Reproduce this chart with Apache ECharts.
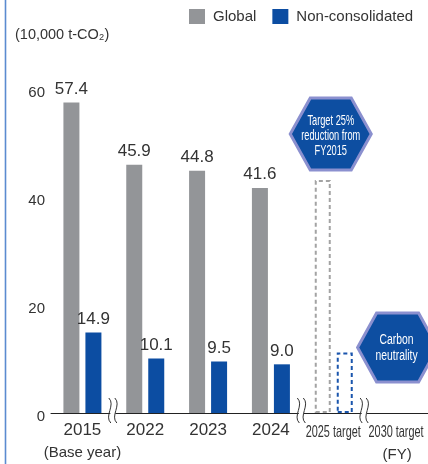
<!DOCTYPE html>
<html><head><meta charset="utf-8">
<script src="https://cdn.jsdelivr.net/npm/echarts@6/dist/echarts.min.js"></script>
<style>html,body{margin:0;padding:0;background:#fff}#c{width:428px;height:464px}</style>
</head><body><div id="c"></div>
<script>
const categories = ['2015', '2022', '2023', '2024', '2025 target', '2030 target'];
const categoryNotes = ['(Base year)', '', '', '', '', '(FY)'];
const targetCategories = ['2025 target', '2030 target'];
const globalValues = [57.4, 45.9, 44.8, 41.6, null, null];
const nonConsolidatedValues = [14.9, 10.1, 9.5, 9.0, null, null];
const globalTarget = [null, null, null, null, 43.1, null];
const nonConsolidatedTarget = [null, null, null, null, 11.2, null];
const yTicks = [0, 20, 40, 60];
const breakAfter = [0, 3, 4];
const unitText = '(10,000 t-CO\u2082)';
const targetNote = 'Target 25%\nreduction from\nFY2015';
const neutralNote = 'Carbon\nneutrality';

const FONT = '"Liberation Sans", Arial, sans-serif';
const GRAY = '#939598';
const BLUE = '#0c4da2';
const TXT = '#333';

function buildData(values, targets, dashColor) {
  return values.map((v, i) => {
    if (targets[i] != null) {
      return {
        value: targets[i],
        itemStyle: { color: 'rgba(0,0,0,0)', borderColor: dashColor, borderWidth: 2, borderType: [4, 3] },
        label: { show: false }
      };
    }
    return v == null ? '-' : v;
  });
}

const chart = echarts.init(document.getElementById('c'), null, { renderer: 'canvas' });
const labelCfg = {
  show: true, position: 'top', distance: 5, fontSize: 17, color: TXT, fontFamily: FONT,
  formatter: p => Number(p.value).toFixed(1)
};
chart.setOption({
  backgroundColor: '#fff',
  animation: false,
  textStyle: { fontFamily: FONT },
  legend: {
    left: 189, top: 9, padding: 0, itemWidth: 16, itemHeight: 15, itemGap: 16, icon: 'rect',
    textStyle: { fontSize: 15, color: TXT, fontFamily: FONT, padding: [0, 0, 0, 3] },
    data: ['Global', 'Non-consolidated']
  },
  grid: { left: 51, width: 380, top: 88.5, bottom: 51, containLabel: false },
  xAxis: {
    type: 'category', data: categories,
    axisLine: { show: true, lineStyle: { color: '#222', width: 1 } },
    axisTick: { show: false },
    axisLabel: {
      interval: 0, margin: 6,
      formatter: (v, i) => {
        if (targetCategories.includes(v)) return '';
        const main = '{y|' + v + '}';
        return categoryNotes[i] ? main + '\n{s|' + categoryNotes[i] + '}' : main;
      },
      rich: {
        y: { fontSize: 17, lineHeight: 22, color: TXT, fontFamily: FONT },
        s: { fontSize: 15, lineHeight: 24, color: TXT, fontFamily: FONT }
      }
    }
  },
  yAxis: {
    type: 'value', min: yTicks[0], max: yTicks[yTicks.length - 1], interval: yTicks[1] - yTicks[0],
    axisLine: { show: false }, axisTick: { show: false }, splitLine: { show: false },
    axisLabel: { fontSize: 15, color: TXT, margin: 6, verticalAlign: 'top', lineHeight: 8, fontFamily: FONT }
  },
  series: [
    {
      name: 'Global', type: 'bar', barWidth: 16, barGap: '37.5%',
      itemStyle: { color: GRAY },
      label: labelCfg,
      data: buildData(globalValues, globalTarget, '#a3a3a3')
    },
    {
      name: 'Non-consolidated', type: 'bar', barWidth: 16, barGap: '37.5%',
      itemStyle: { color: BLUE },
      label: labelCfg,
      data: buildData(nonConsolidatedValues, nonConsolidatedTarget, '#1a55ad')
    }
  ]
});

function hexagon(cx, cy, w, h, inset) {
  return {
    type: 'polygon', z: 100,
    shape: { points: [[cx - w / 2, cy], [cx - w / 2 + inset, cy - h / 2], [cx + w / 2 - inset, cy - h / 2],
      [cx + w / 2, cy], [cx + w / 2 - inset, cy + h / 2], [cx - w / 2 + inset, cy + h / 2]] },
    style: { fill: '#0d4ea1', stroke: '#8b90cf', lineWidth: 3 }
  };
}
function narrowText(cx, cy, text, size, lh, sx, color, z) {
  return {
    type: 'text', z: z, x: cx, y: cy, scaleX: sx, scaleY: 1,
    style: { text: text, fill: color, font: size + 'px ' + FONT, lineHeight: lh, align: 'center', verticalAlign: 'middle' }
  };
}

const px = c => chart.convertToPixel({ xAxisIndex: 0 }, c);
const y0 = chart.convertToPixel({ yAxisIndex: 0 }, 0);
const graphics = [
  { type: 'line', shape: { x1: 5.5, y1: 0, x2: 5.5, y2: 464 }, style: { stroke: '#5b8bd0', lineWidth: 1.6 } },
  { type: 'text', x: 15, y: 35, style: { text: unitText, font: '14.5px ' + FONT, fill: TXT, verticalAlign: 'middle' } }
];
breakAfter.forEach(i => {
  const c = (px(categories[i]) + px(categories[i + 1])) / 2 - 1;
  graphics.push({ type: 'rect', z: 50, shape: { x: c - 2.5, y: y0 - 2, width: 5, height: 4 }, style: { fill: '#fff' } });
  [-3, 3].forEach(d => {
    graphics.push({
      type: 'bezierCurve', z: 51,
      shape: { x1: c + d - 1, y1: y0 - 15, cpx1: c + d + 6, cpy1: y0 - 8, cpx2: c + d - 6, cpy2: y0 + 3, x2: c + d + 1, y2: y0 + 10 },
      style: { stroke: '#333', lineWidth: 1, fill: null }
    });
  });
});
// condensed category labels for the target columns
categories.forEach((c, i) => {
  if (!targetCategories.includes(c)) return;
  const x = px(c) - 0.5;
  graphics.push(narrowText(x, y0 + 19, c, 16.5, 18, 0.66, TXT, 10));
  if (categoryNotes[i]) graphics.push(narrowText(x + 1, y0 + 42, categoryNotes[i], 15, 18, 1, TXT, 10));
});
const hx1 = px(categories[4]) - 3;
const hx2 = px(categories[5]) + 1;
graphics.push(hexagon(hx1, 134, 81, 72, 20));
graphics.push(narrowText(hx1, 136.5, targetNote, 14, 15, 0.66, '#fff', 101));
graphics.push(hexagon(hx2, 347.5, 80, 69, 19));
graphics.push(narrowText(hx2 - 1, 348, neutralNote, 14, 16, 0.74, '#fff', 101));
chart.setOption({ graphic: graphics });
</script>
</body></html>
